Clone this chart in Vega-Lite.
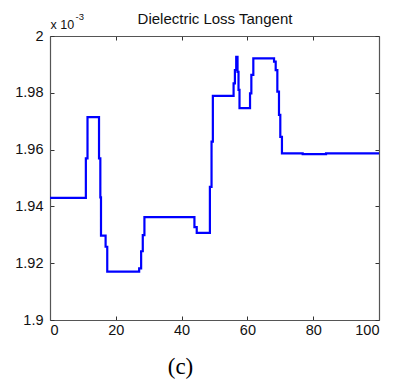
{
  "$schema": "https://vega.github.io/schema/vega-lite/v6.json",
  "autosize": "none",
  "width": 329,
  "height": 284,
  "padding": {"left": 50, "top": 36, "right": 16, "bottom": 59},
  "background": "white",
  "config": {"view": {"stroke": null}, "axis": {"grid": false, "domainColor": "#555555", "tickColor": "#333333", "labelFont": "Liberation Sans, Arial, sans-serif", "labelFontSize": 14.5, "labelColor": "#111111", "domainWidth": 1.2}},
  "data": {"values": [
    {"x": 0, "y": 1.9430},
    {"x": 10.9, "y": 1.9569},
    {"x": 11.4, "y": 1.9714},
    {"x": 14.9, "y": 1.9569},
    {"x": 15.3, "y": 1.9432},
    {"x": 15.5, "y": 1.9297},
    {"x": 16.9, "y": 1.9258},
    {"x": 17.4, "y": 1.9170},
    {"x": 27.1, "y": 1.9182},
    {"x": 27.7, "y": 1.9242},
    {"x": 28.2, "y": 1.9299},
    {"x": 28.7, "y": 1.9362},
    {"x": 43.9, "y": 1.9327},
    {"x": 44.6, "y": 1.9307},
    {"x": 48.6, "y": 1.9469},
    {"x": 49.1, "y": 1.9628},
    {"x": 49.5, "y": 1.9789},
    {"x": 55.8, "y": 1.9833},
    {"x": 56.2, "y": 1.9880},
    {"x": 56.6, "y": 1.9927},
    {"x": 57.0, "y": 1.9874},
    {"x": 57.3, "y": 1.9810},
    {"x": 57.6, "y": 1.9746},
    {"x": 60.8, "y": 1.9798},
    {"x": 61.2, "y": 1.9863},
    {"x": 61.8, "y": 1.9921},
    {"x": 68.1, "y": 1.9910},
    {"x": 68.6, "y": 1.9880},
    {"x": 69.1, "y": 1.9804},
    {"x": 69.6, "y": 1.9722},
    {"x": 70.0, "y": 1.9645},
    {"x": 70.5, "y": 1.9587},
    {"x": 76.8, "y": 1.9584},
    {"x": 83.9, "y": 1.9587},
    {"x": 100, "y": 1.9587}
  ]},
  "resolve": {"axis": {"x": "independent", "y": "independent"}},
  "layer": [
    {
      "mark": {"type": "line", "interpolate": "step-after", "color": "#0000ff", "strokeWidth": 2.2},
      "encoding": {
        "x": {"field": "x", "type": "quantitative", "scale": {"domain": [0, 100], "nice": false, "zero": false},
              "axis": {"orient": "bottom", "values": [0, 20, 40, 60, 80, 100], "tickSize": -4, "labelPadding": 7, "title": "(c)", "titleFont": "Liberation Serif, Times New Roman, serif", "titleFontSize": 23, "titleFontWeight": "normal", "titleColor": "#000000", "titleX": 130, "titleY": 53, "titleAlign": "center", "titleBaseline": "alphabetic"}},
        "y": {"field": "y", "type": "quantitative", "scale": {"domain": [1.9, 2.0], "nice": false, "zero": false},
              "axis": {"orient": "left", "values": [1.9, 1.92, 1.94, 1.96, 1.98, 2.0], "format": ".3~g", "tickSize": -4, "labelPadding": 11, "title": "x 10", "titleFont": "Liberation Sans, Arial, sans-serif", "titleFontSize": 12.5, "titleFontWeight": "normal", "titleColor": "#111111", "titleAngle": 0, "titleX": 0, "titleY": -8, "titleAlign": "left", "titleBaseline": "alphabetic"}}
      }
    },
    {
      "mark": {"type": "line", "interpolate": "step-after", "strokeOpacity": 0},
      "encoding": {
        "x": {"field": "x", "type": "quantitative", "scale": {"domain": [0, 100], "nice": false, "zero": false},
              "axis": {"orient": "top", "values": [0, 20, 40, 60, 80, 100], "tickSize": -4, "labels": false, "title": "Dielectric Loss Tangent", "titleFont": "Liberation Sans, Arial, sans-serif", "titleFontSize": 15, "titleFontWeight": "normal", "titleColor": "#111111", "titleX": 164.5, "titleY": -13, "titleAlign": "center", "titleBaseline": "alphabetic"}},
        "y": {"field": "y", "type": "quantitative", "scale": {"domain": [1.9, 2.0], "nice": false, "zero": false},
              "axis": {"orient": "right", "values": [1.9, 1.92, 1.94, 1.96, 1.98, 2.0], "tickSize": -4, "labels": false, "title": "-3", "titleFont": "Liberation Sans, Arial, sans-serif", "titleFontSize": 9.5, "titleFontWeight": "normal", "titleColor": "#111111", "titleAngle": 0, "titleX": -304, "titleY": -17, "titleAlign": "left", "titleBaseline": "alphabetic"}}
      }
    }
  ]
}
